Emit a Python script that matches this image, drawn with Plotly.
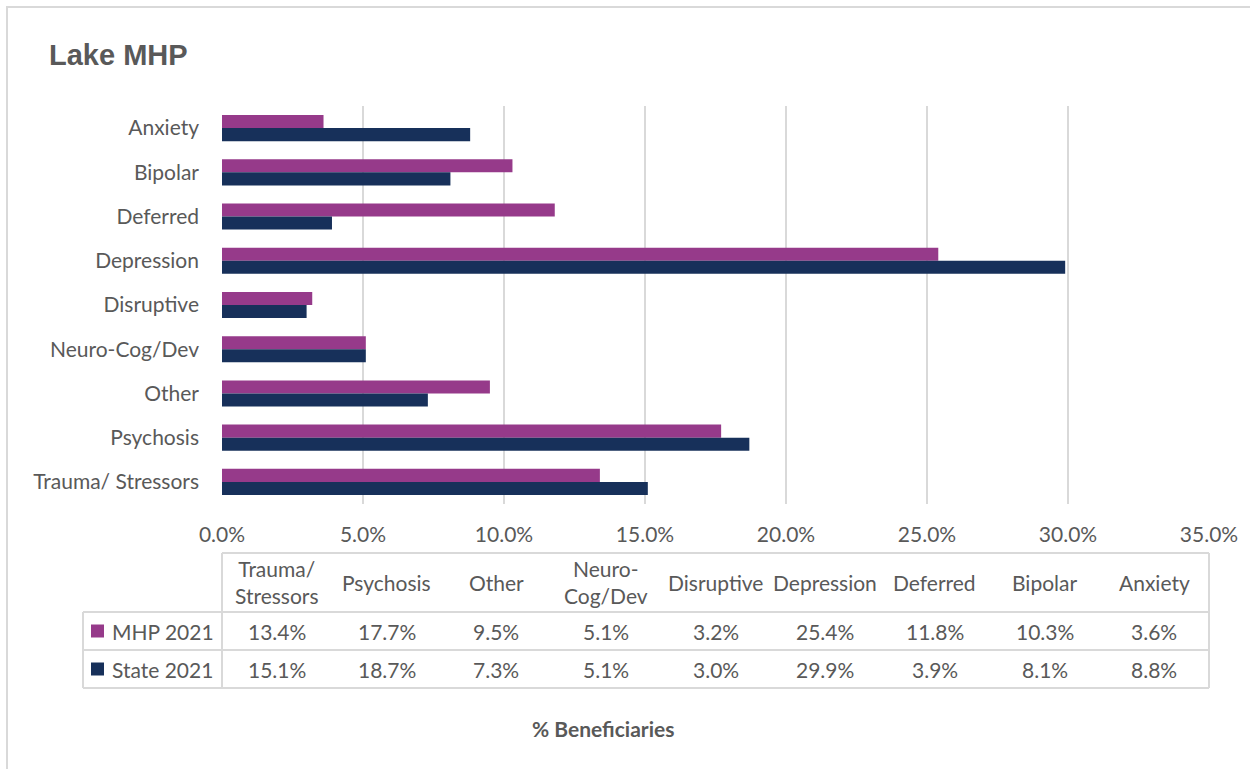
import plotly.graph_objects as go

# Diagnosis categories, top to bottom on the chart
categories = ["Anxiety", "Bipolar", "Deferred", "Depression", "Disruptive",
              "Neuro-Cog/Dev", "Other", "Psychosis", "Trauma/ Stressors"]
# Percent of beneficiaries by category
mhp_2021 = [3.6, 10.3, 11.8, 25.4, 3.2, 5.1, 9.5, 17.7, 13.4]
state_2021 = [8.8, 8.1, 3.9, 29.9, 3.0, 5.1, 7.3, 18.7, 15.1]
series_names = ["MHP 2021", "State 2021"]
# Data-table column headers (reverse order of the chart rows)
table_headers = ["Trauma/<br>Stressors", "Psychosis", "Other", "Neuro-<br>Cog/Dev",
                 "Disruptive", "Depression", "Deferred", "Bipolar", "Anxiety"]
x_ticks = [0, 5, 10, 15, 20, 25, 30, 35]
x_tick_labels = [f"{v:.1f}%" for v in x_ticks]

PURPLE = "#963A8A"
NAVY = "#17305A"
TEXT = "#595959"
GRID = "#D9D9D9"
FONT = "Lato"
FS = 21

W, H = 1250, 769
L, R, T, B = 222, 1209, 106, 504


def px(x):
    return (x - L) / (R - L)


def py(y):
    return (B - y) / (B - T)


fig = go.Figure()
fig.add_trace(go.Bar(y=categories, x=mhp_2021, name=series_names[0], orientation="h",
                     marker=dict(color=PURPLE, line=dict(width=0))))
fig.add_trace(go.Bar(y=categories, x=state_2021, name=series_names[1], orientation="h",
                     marker=dict(color=NAVY, line=dict(width=0))))

shapes = []
annotations = []

# outer chart frame
shapes.append(dict(type="rect", xref="paper", yref="paper",
                   x0=px(7), x1=px(1262), y0=py(7), y1=py(782),
                   line=dict(color=GRID, width=2), fillcolor="rgba(0,0,0,0)", layer="below"))

# data table grid
tbl_top, row1, row2, tbl_bot = 553, 612, 650, 688
leg_left = 83
line_style = dict(color=GRID, width=2)
for (x0, y0, x1, y1) in [
    (L, tbl_top, R, tbl_top),
    (leg_left, row1, R, row1),
    (leg_left, row2, R, row2),
    (leg_left, tbl_bot, R, tbl_bot),
    (L, tbl_top, L, tbl_bot),
    (R, tbl_top, R, tbl_bot),
    (leg_left, row1, leg_left, tbl_bot),
]:
    shapes.append(dict(type="line", xref="paper", yref="paper",
                       x0=px(x0), x1=px(x1), y0=py(y0), y1=py(y1), line=line_style))

col_w = (R - L) / len(table_headers)
mhp_by_col = list(reversed(mhp_2021))
state_by_col = list(reversed(state_2021))
cell_font = dict(family=FONT, size=FS, color=TEXT)
for i, hdr in enumerate(table_headers):
    cx = L + col_w * (i + 0.5)
    annotations.append(dict(x=px(cx), y=py(582), xref="paper", yref="paper", text=hdr,
                            showarrow=False, font=cell_font,
                            xanchor="center", yanchor="middle"))
    annotations.append(dict(x=px(cx), y=py(631), xref="paper", yref="paper",
                            text=f"{mhp_by_col[i]:.1f}%", showarrow=False, font=cell_font,
                            xanchor="center", yanchor="middle"))
    annotations.append(dict(x=px(cx), y=py(669), xref="paper", yref="paper",
                            text=f"{state_by_col[i]:.1f}%", showarrow=False, font=cell_font,
                            xanchor="center", yanchor="middle"))

# legend keys inside the table
for name, color, cy in [(series_names[0], PURPLE, 631), (series_names[1], NAVY, 669)]:
    shapes.append(dict(type="rect", xref="paper", yref="paper",
                       x0=px(91), x1=px(104), y0=py(cy - 6.5), y1=py(cy + 6.5),
                       fillcolor=color, line=dict(width=0)))
    annotations.append(dict(x=px(110), y=py(cy), xref="paper", yref="paper", text=name,
                            showarrow=False, font=cell_font,
                            xanchor="left", yanchor="middle"))

# chart title and axis title
annotations.append(dict(x=px(47), y=py(55), xref="paper", yref="paper", text="<b>Lake MHP</b>",
                        showarrow=False, font=dict(family="Liberation Sans", size=29, color=TEXT),
                        xanchor="left", yanchor="middle"))
annotations.append(dict(x=px(603), y=py(728), xref="paper", yref="paper",
                        text="<b>% Beneficiaries</b>", showarrow=False,
                        font=dict(family=FONT, size=FS, color=TEXT),
                        xanchor="center", yanchor="middle"))

fig.update_layout(
    width=W, height=H,
    margin=dict(l=L, r=W - R, t=T, b=H - B),
    paper_bgcolor="white", plot_bgcolor="white",
    barmode="group", bargap=0.41, bargroupgap=0,
    showlegend=False,
    shapes=shapes, annotations=annotations,
    font=dict(family=FONT, size=FS, color=TEXT),
)
fig.update_xaxes(range=[0, 35], tickvals=x_ticks, ticktext=x_tick_labels,
                 showgrid=True, gridcolor=GRID, gridwidth=2, zeroline=False,
                 showline=False, ticks="", ticklabelstandoff=16,
                 tickfont=dict(family=FONT, size=FS, color=TEXT))
fig.update_yaxes(categoryorder="array", categoryarray=categories, autorange="reversed",
                 showgrid=False, showline=False, ticks="", ticklabelstandoff=22,
                 tickfont=dict(family=FONT, size=FS, color=TEXT))

fig.write_html("out.html")
